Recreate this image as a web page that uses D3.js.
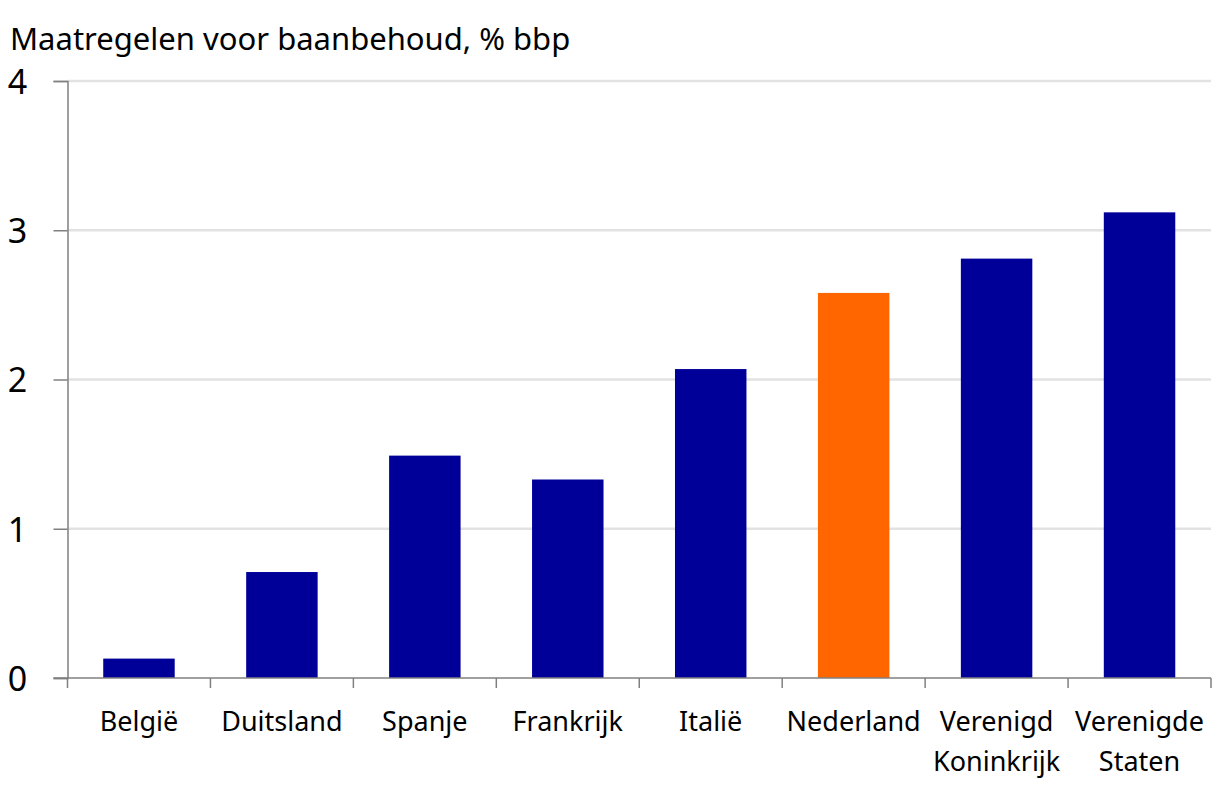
<!DOCTYPE html>
<html>
<head>
<meta charset="utf-8">
<script src="https://cdn.jsdelivr.net/npm/d3@7"></script>
<style>
  body { margin: 0; background: #fff; }
  text { font-family: "Noto Sans", "Open Sans", sans-serif; fill: #000; }
</style>
</head>
<body>
<div id="chart"></div>
<script>
var countries = ["België", "Duitsland", "Spanje", "Frankrijk", "Italië", "Nederland", "Verenigd Koninkrijk", "Verenigde Staten"];
var values = [0.13, 0.71, 1.49, 1.33, 2.07, 2.58, 2.81, 3.12];
var highlight = ["Nederland"];
var yTicks = [0, 1, 2, 3, 4];
var labelLines = {
  "Verenigd Koninkrijk": ["Verenigd", "Koninkrijk"],
  "Verenigde Staten": ["Verenigde", "Staten"]
};

var width = 1213,
  height = 792;
var mLeft = 67.5, mRight = 1211, mTop = 81, mBottom = 678;

var svg = d3.select("#chart").append("svg")
  .attr("width", width)
  .attr("height", height);

var x = d3.scaleBand()
  .domain(countries)
  .range([mLeft, mRight])
  .paddingInner(0.5)
  .paddingOuter(0.25);

var y = d3.scaleLinear()
  .domain([0, 4])
  .range([mBottom, mTop]);

// gridlines
svg.append("g")
  .selectAll("line")
  .data(yTicks.filter(function(d) { return d > 0; }))
  .enter().append("line")
  .attr("x1", mLeft)
  .attr("x2", mRight)
  .attr("y1", function(d) { return y(d); })
  .attr("y2", function(d) { return y(d); })
  .attr("stroke", "#e2e2e2")
  .attr("stroke-width", 2.5);

// bars
svg.append("g")
  .selectAll("rect")
  .data(countries)
  .enter().append("rect")
  .attr("x", function(d) { return x(d); })
  .attr("width", x.bandwidth())
  .attr("y", function(d, i) { return y(values[i]); })
  .attr("height", function(d, i) { return y(0) - y(values[i]); })
  .attr("fill", function(d) { return highlight.indexOf(d) >= 0 ? "#ff6600" : "#000099"; });

// y axis
var yAxis = svg.append("g")
  .attr("transform", "translate(" + mLeft + ",0)")
  .call(d3.axisLeft(y).tickValues(yTicks).tickSize(14).tickFormat(d3.format("d")));
yAxis.select(".domain").attr("stroke", "#808080").attr("stroke-width", 1.5);
yAxis.selectAll(".tick line").attr("stroke", "#808080").attr("stroke-width", 1.5);
yAxis.selectAll(".tick text")
  .attr("x", -50)
  .attr("text-anchor", "middle")
  .attr("dy", "0.36em")
  .attr("fill", "#000")
  .style("font-size", "34px")
  .style("font-family", "'Noto Sans', sans-serif");

// x axis: separators between categories
var xAxis = svg.append("g");
xAxis.append("line")
  .attr("x1", mLeft - 14)
  .attr("x2", mRight)
  .attr("y1", mBottom)
  .attr("y2", mBottom)
  .attr("stroke", "#808080")
  .attr("stroke-width", 1.5);
xAxis.selectAll(".sep")
  .data(d3.range(countries.length + 1))
  .enter().append("line")
  .attr("class", "sep")
  .attr("x1", function(i) { return mLeft + i * x.step(); })
  .attr("x2", function(i) { return mLeft + i * x.step(); })
  .attr("y1", mBottom)
  .attr("y2", mBottom + 10)
  .attr("stroke", "#808080")
  .attr("stroke-width", 1.5);

var labels = xAxis.selectAll(".lab")
  .data(countries)
  .enter().append("text")
  .attr("class", "lab")
  .attr("text-anchor", "middle")
  .style("font-size", "27px");
labels.each(function(d) {
  var lines = labelLines[d] || [d];
  var t = d3.select(this);
  var cx = x(d) + x.bandwidth() / 2;
  lines.forEach(function(l, i) {
    t.append("tspan").attr("x", cx).attr("y", 731 + i * 40).text(l);
  });
});

// title
svg.append("text")
  .attr("x", 10)
  .attr("y", 50)
  .style("font-size", "31px")
  .text("Maatregelen voor baanbehoud, % bbp");
</script>
</body>
</html>
